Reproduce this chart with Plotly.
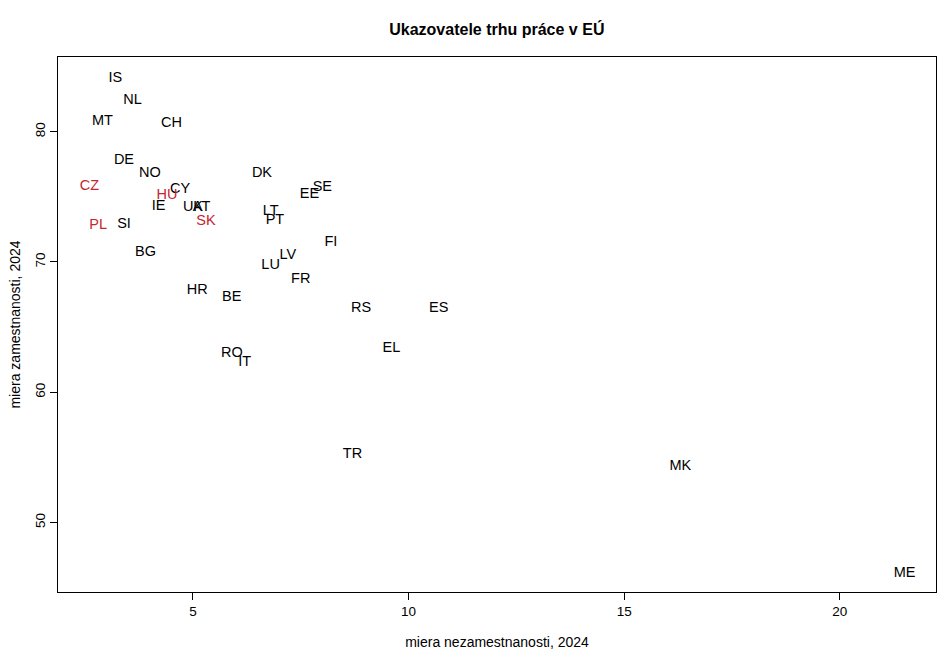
import plotly.graph_objects as go

countries = ["IS","NL","MT","CH","DE","NO","CZ","CY","HU","DK","EE","SE","IE","UK","AT",
             "LT","PT","SK","PL","SI","FI","BG","LV","LU","FR","RS","ES","HR","BE","EL",
             "RO","IT","TR","MK","ME"]
unemployment = [3.2,3.6,2.9,4.5,3.4,4.0,2.6,4.7,4.4,6.6,7.7,8.0,4.2,5.0,5.2,
                6.8,6.9,5.3,2.8,3.4,8.2,3.9,7.2,6.8,7.5,8.9,10.7,5.1,5.9,9.6,
                5.9,6.2,8.7,16.3,21.5]
employment = [84.1,82.4,80.8,80.6,77.8,76.8,75.8,75.6,75.1,76.8,75.2,75.7,74.3,74.2,74.2,
              73.9,73.2,73.1,72.8,72.9,71.5,70.7,70.5,69.7,68.7,66.4,66.4,67.8,67.3,63.4,
              63.0,62.3,55.2,54.3,46.1]
highlight = {"CZ","HU","SK","PL"}
colors = ["#c4262f" if c in highlight else "black" for c in countries]

fig = go.Figure(go.Scatter(
    x=unemployment, y=employment, text=countries, mode="text",
    textposition="middle center",
    textfont=dict(family="Liberation Sans, Arial", size=14.5, color=colors),
    hoverinfo="skip", showlegend=False))

axis_common = dict(showgrid=False, zeroline=False, showline=True, mirror=True,
                   linecolor="black", linewidth=1, ticks="outside", ticklen=7,
                   tickcolor="black", automargin=False,
                   tickfont=dict(family="Liberation Sans, Arial", size=13.5, color="black"))

fig.update_layout(
    width=950, height=650,
    margin=dict(l=58, r=14, t=57, b=58),
    paper_bgcolor="white", plot_bgcolor="white",
    title=dict(text="<b>Ukazovatele trhu práce v EÚ</b>", x=0.523, xanchor="center",
               y=0.955, yanchor="middle",
               font=dict(family="Liberation Sans, Arial", size=16, color="black")),
    xaxis=dict(range=[1.87, 22.23], tickvals=[5,10,15,20],
               title=dict(text="miera nezamestnanosti, 2024", standoff=20,
                          font=dict(family="Liberation Sans, Arial", size=14, color="black")),
               **axis_common),
    yaxis=dict(range=[44.67, 85.73], tickvals=[50,60,70,80], tickangle=-90,
               title=dict(text="miera zamestnanosti, 2024", standoff=8,
                          font=dict(family="Liberation Sans, Arial", size=14, color="black")),
               **axis_common),
)
fig.write_html("out.html")
